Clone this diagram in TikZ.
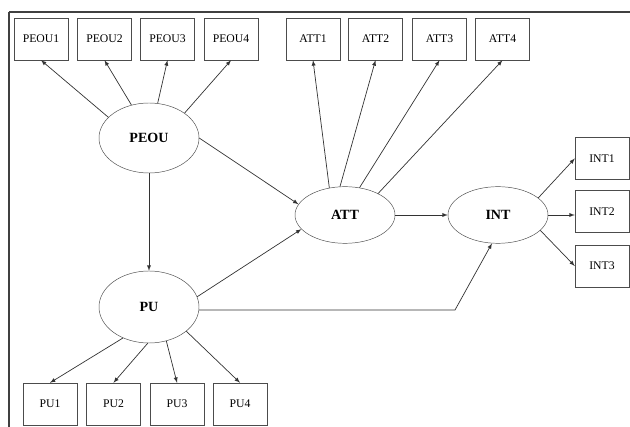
\documentclass[tikz,border=0pt]{standalone}
\usepackage{fontspec}
\setmainfont{Liberation Serif}
\usetikzlibrary{shapes.geometric}
\tikzset{
	item/.style={draw=black!70, rectangle, minimum width=1.62cm, minimum height=1.26cm, inner sep=0pt, font=\fontsize{10}{12}\selectfont},
	factor/.style={draw=black!70, ellipse, minimum width=3cm, minimum height=2.1cm, inner sep=0pt, font=\fontsize{12}{14}\selectfont\bfseries},
	link/.style={->, >=latex, draw=black!80, line width=0.6pt}
}

\begin{document}
\begin{tikzpicture}[x=0.03cm, y=-0.03cm]
			%%%%% START %%%%%
			\useasboundingbox (0, 0) rectangle (630, 427);
			\draw[black!75, line width=2.2pt] (9, 12) -- (630, 12);
			\draw[black!75, line width=1.4pt] (9, 12) -- (9, 427);
			
			\node[factor] (PEOU) at (149, 138) {PEOU};
			\node[factor, minimum height=2.16cm] (PU) at (149, 307) {PU};
			\node[factor, minimum height=1.7cm] (ATT) at (345, 215) {ATT};
			\node[factor, minimum height=1.7cm] (INT) at (498, 215) {INT};
			
			\node[item] (PEOU1) at (41, 39) {PEOU1};
			\node[item] (PEOU2) at (104.5, 39) {PEOU2};
			\node[item] (PEOU3) at (167.5, 39) {PEOU3};
			\node[item] (PEOU4) at (231, 39) {PEOU4};
			
			\node[item] (ATT1) at (313, 39) {ATT1};
			\node[item] (ATT2) at (375.5, 39) {ATT2};
			\node[item] (ATT3) at (439.5, 39) {ATT3};
			\node[item] (ATT4) at (502.5, 39) {ATT4};
			
			\node[item] (PU1) at (50, 404) {PU1};
			\node[item] (PU2) at (113.5, 404) {PU2};
			\node[item] (PU3) at (177, 404) {PU3};
			\node[item] (PU4) at (240, 404) {PU4};
			
			\node[item] (INT1) at (602, 158.5) {INT1};
			\node[item] (INT2) at (602, 211.5) {INT2};
			\node[item] (INT3) at (602, 266) {INT3};
			
			\draw[link] (PEOU.153) -- (PEOU1.south);
			\draw[link] (PEOU.118) -- (PEOU2.south);
			\draw[link] (PEOU.76) -- (PEOU3.south);
			\draw[link] (PEOU.35) -- (PEOU4.south);
			
			\draw[link] (ATT.120) -- (ATT1.south);
			\draw[link] (ATT.100) -- (ATT2.south);
			\draw[link] (ATT.62) -- (ATT3.south);
			\draw[link] (ATT.33) -- (ATT4.south);
			
			\draw[link] (PU.-130) -- (PU1.north);
			\draw[link] (PU.-92) -- (PU2.north);
			\draw[link] (PU.-63) -- (PU3.north);
			\draw[link] (PU.-33) -- (PU4.north);
			
			\draw[link] (PEOU.south) -- (PU.north);
			\draw[link] (PEOU.east) -- (ATT.167);
			\draw[link] (PU.12) -- (ATT.-162);
			\draw[link] (ATT.east) -- (INT.west);
			
			\coordinate (bend) at (455, 310);
			\draw[link] (PU.east |- bend) -- (bend) -- (INT.-102);
			
			\draw[link] (INT.23) -- (INT1.west);
			\draw[link] (INT.east) -- (INT.east -| INT2.west);
			\draw[link] (INT.-20) -- (INT3.west);
			%%%%% END %%%%%
\end{tikzpicture}
\end{document}
